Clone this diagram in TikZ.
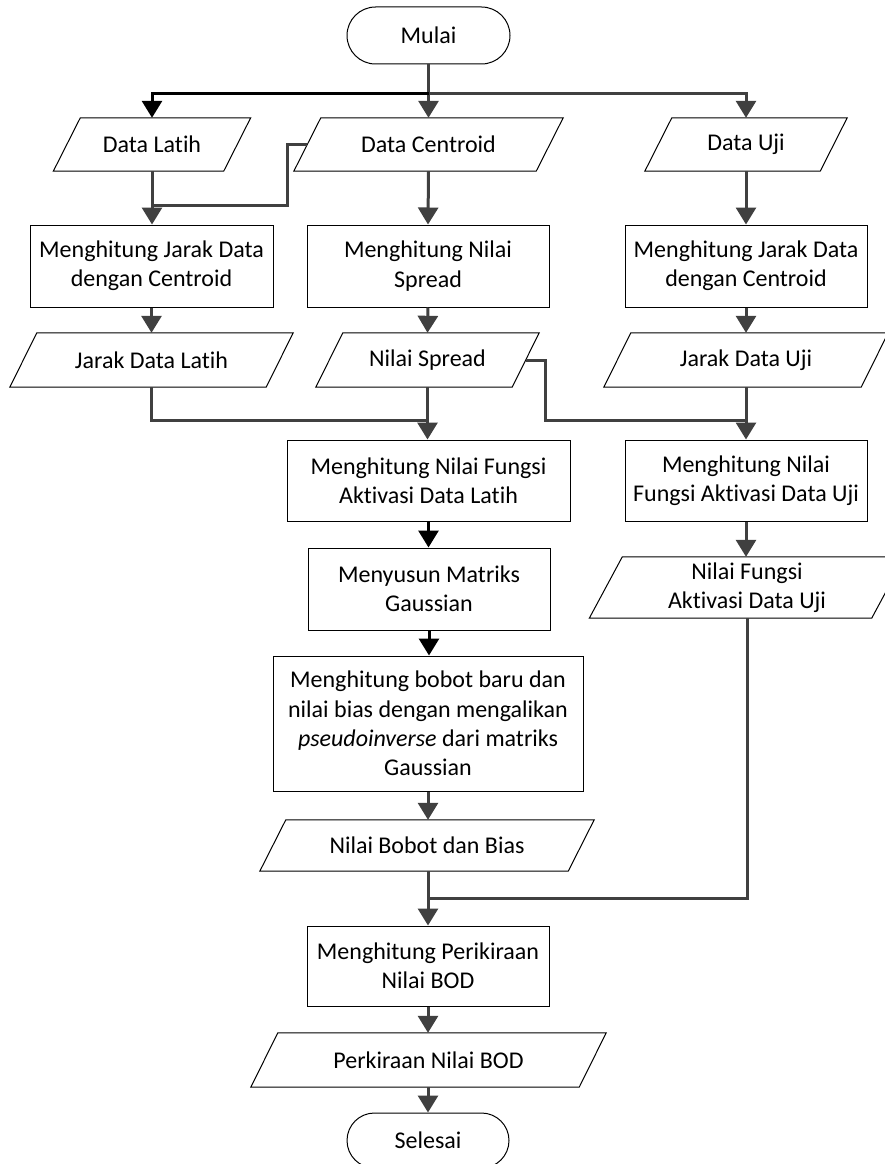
\documentclass[tikz,border=0pt]{standalone}
\usepackage{fontspec}
\setmainfont{Carlito}[Ligatures=NoCommon,RawFeature={-liga;-clig;-calt;-dlig}]
\usetikzlibrary{arrows.meta,shapes.misc}
\definecolor{lineg}{HTML}{404040}
\tikzset{
  base/.style={inner sep=0pt, align=center, font=\fontsize{24}{29.3}\selectfont},
  term/.style={base, rounded rectangle, draw=black, line width=1pt},
  proc/.style={base, rectangle, draw=black, line width=1pt},
  iotxt/.style={base, rectangle, draw=none},
  boxline/.style={draw=black, line width=1pt, line join=miter},
  gline/.style={draw=lineg, line width=3pt},
  bline/.style={draw=black, line width=3pt},
  tipg/.style={-{Triangle[width=20pt,length=17pt]}},
}
\newcommand\drawio[2]{\draw[boxline] ([xshift=#2pt]#1.north west) -- (#1.north east) -- ([xshift=-#2pt]#1.south east) -- (#1.south west) -- cycle;}
\begin{document}
\begin{tikzpicture}[x=1pt,y=-1pt]
\useasboundingbox[fill=white] (0,0) rectangle (885,1164);

% nodes
\node[term, minimum width=163pt, minimum height=57pt] (mulai) at (428.5,35.5) {Mulai};

\node[iotxt, minimum width=197pt, minimum height=53pt] (dl) at (152,144.5) {Data Latih};
\node[iotxt, minimum width=269pt, minimum height=53pt] (dc) at (428.5,144.5) {Data Centroid};
\node[iotxt, minimum width=202pt, minimum height=53pt] (du) at (746,144.5) {Data Uji};
\drawio{dl}{27}
\drawio{dc}{27}
\drawio{du}{27}

\node[proc, minimum width=243pt, minimum height=82pt] (lbox) at (151.5,266) {Menghitung Jarak Data\\dengan Centroid};
\node[proc, minimum width=242pt, minimum height=82pt] (mbox) at (428,266) {Menghitung Nilai\\Spread};
\node[proc, minimum width=242pt, minimum height=82pt] (rbox) at (746,266) {Menghitung Jarak Data\\dengan Centroid};

\node[iotxt, minimum width=283pt, minimum height=54pt] (jdl) at (151.5,360) {Jarak Data Latih};
\node[iotxt, minimum width=223pt, minimum height=54pt] (ns) at (427.5,360) {Nilai Spread};
\node[iotxt, minimum width=284pt, minimum height=54pt] (jdu) at (746,360) {Jarak Data Uji};
\drawio{jdl}{27}
\drawio{ns}{27}
\drawio{jdu}{27}

\node[proc, minimum width=283pt, minimum height=81pt] (fa) at (428.5,480.5) {Menghitung Nilai Fungsi\\Aktivasi Data Latih};
\node[proc, minimum width=242pt, minimum height=81pt] (fu) at (746,480.5) {Menghitung Nilai\\Fungsi Aktivasi Data Uji};

\node[proc, minimum width=242pt, minimum height=82pt] (gm) at (429,589) {Menyusun Matriks\\Gaussian};
\node[iotxt, minimum width=315pt, minimum height=61pt] (nfu) at (747,587.5) {Nilai Fungsi\\Aktivasi Data Uji};
\drawio{nfu}{33}

\node[proc, minimum width=310pt, minimum height=135pt] (bb) at (428,723.5) {Menghitung bobot baru dan\\nilai bias dengan mengalikan\\\textit{pseudoinverse} dari matriks\\Gaussian};

\node[iotxt, minimum width=334pt, minimum height=51pt] (nb) at (427,845.5) {Nilai Bobot dan Bias};
\drawio{nb}{26}

\node[proc, minimum width=242pt, minimum height=80pt] (per) at (428,966) {Menghitung Perikiraan\\Nilai BOD};

\node[iotxt, minimum width=355pt, minimum height=54pt] (pbod) at (428.5,1060) {Perkiraan Nilai BOD};
\drawio{pbod}{27}

\node[term, minimum width=162pt, minimum height=55pt] (selesai) at (428,1140.5) {Selesai};

% junction coordinates
\coordinate (j0) at (428.5,93);
\coordinate (j1) at (287,205);
\coordinate (j2) at (428.5,420);
\coordinate (j3) at (545,420);
\coordinate (j4) at (428,898);

% connectors
\draw[gline,tipg] (mulai.south) -- (dc.north);
\draw[gline,tipg] (j0) -| (du.north);
\draw[bline,tipg] (j0) -| (dl.north);

\draw[gline,tipg] (dl.south) -- (dl.south |- lbox.north);
\draw[gline] ([xshift=13.5pt]dc.west) -| (j1) -- (j1 -| lbox.north);
\draw[gline,tipg] (dc.south) -- (mbox.north);
\draw[gline,tipg] (du.south) -- (rbox.north);

\draw[gline,tipg] (lbox.south) -- (jdl.north);
\draw[gline,tipg] (mbox.south) -- (ns.north);
\draw[gline,tipg] (rbox.south) -- (jdu.north);

\draw[gline] (jdl.south) |- (j2);
\draw[gline,tipg] (ns.south) -- (ns.south |- fa.north);
\draw[gline] ([xshift=-13.5pt]ns.east) -| (j3) -- (j3 -| fu.north);
\draw[gline,tipg] (jdu.south) -- (fu.north);

\draw[bline,tipg] (fa.south) -- (fa.south |- gm.north);
\draw[bline,tipg] (gm.south) -- (gm.south |- bb.north);
\draw[gline,tipg] (fu.south) -- (fu.south |- nfu.north);

\draw[gline,tipg] (bb.south) -- (bb.south |- nb.north);
\draw[gline,tipg] (nb.south -| per.north) -- (per.north);
\draw[gline] (nfu.south) |- (j4);

\draw[gline,tipg] (per.south) -- (per.south |- pbod.north);
\draw[gline,tipg] (pbod.south -| selesai.north) -- (selesai.north);
\end{tikzpicture}
\end{document}
